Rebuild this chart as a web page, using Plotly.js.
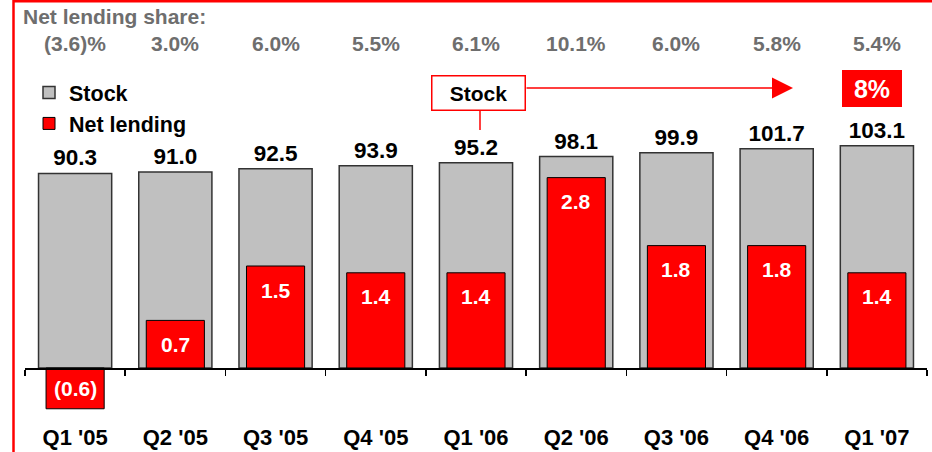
<!DOCTYPE html>
<html>
<head>
<meta charset="utf-8">
<script src="https://cdn.plot.ly/plotly-3.0.1.min.js"></script>
<style>
  html, body { margin: 0; padding: 0; background: #fff; }
  #chart { width: 932px; height: 452px; }
</style>
</head>
<body>
<div id="chart"></div>
<script>
  var quarters = ["Q1 '05", "Q2 '05", "Q3 '05", "Q4 '05", "Q1 '06", "Q2 '06", "Q3 '06", "Q4 '06", "Q1 '07"];
  var stock = [90.3, 91.0, 92.5, 93.9, 95.2, 98.1, 99.9, 101.7, 103.1];
  var netLending = [-0.6, 0.7, 1.5, 1.4, 1.4, 2.8, 1.8, 1.8, 1.4];
  var lendingShare = ["(3.6)%", "3.0%", "6.0%", "5.5%", "6.1%", "10.1%", "6.0%", "5.8%", "5.4%"];
  var growthLabel = "8%";

  var FONT = "Liberation Sans, Arial, sans-serif";
  var RED = "#ff0000";

  // both y scales share the same zero line
  var yRange = [-24.1, 142.9];
  var y2Range = [-0.765, 4.53];
  var zeroPos = -yRange[0] / (yRange[1] - yRange[0]);

  // pixel helpers for the decorations (plot area: x 25..927, y 60..420)
  function px(x) { return (x - 25) / 902; }
  function py(y) { return (420 - y) / 360; }

  function fmt(v) {
    return v < 0 ? "(" + Math.abs(v).toFixed(1) + ")" : v.toFixed(1);
  }

  var stockTrace = {
    type: "bar",
    name: "Stock",
    x: quarters,
    y: stock,
    yaxis: "y",
    width: 0.73,
    marker: { color: "#c0c0c0", line: { color: "#333333", width: 1.5 } },
    text: stock.map(fmt),
    textposition: "outside",
    cliponaxis: false,
    textfont: { family: FONT, size: 22.5, color: "#000", weight: "bold" },
    hoverinfo: "skip",
  };

  var lendingTrace = {
    type: "bar",
    name: "Net lending",
    x: quarters,
    y: netLending,
    yaxis: "y2",
    width: 0.58,
    marker: { color: RED, line: { color: "#000", width: 1 } },
    hoverinfo: "skip",
  };

  var annotations = [];

  annotations.push({
    text: "Net lending share:",
    xref: "paper", yref: "paper",
    x: px(21), y: py(17), xanchor: "left", yanchor: "middle",
    showarrow: false,
    font: { family: FONT, size: 21, color: "#6e6e6e", weight: "bold" },
  });

  lendingShare.forEach(function (s, i) {
    annotations.push({
      text: s,
      xref: "x", yref: "paper",
      x: quarters[i], y: py(44), xanchor: "center", yanchor: "middle",
      showarrow: false,
      font: { family: FONT, size: 21, color: "#6e6e6e", weight: "bold" },
    });
  });

  netLending.forEach(function (v, i) {
    annotations.push({
      text: fmt(v),
      xref: "x", yref: "y2",
      x: quarters[i], y: v, xanchor: "center", yanchor: "middle",
      yshift: v < 0 ? 20 : -24,
      showarrow: false,
      font: { family: FONT, size: 21, color: "#fff", weight: "bold" },
    });
  });

  // "Stock" call-out box with arrow towards the growth figure
  annotations.push({
    text: "Stock",
    xref: "paper", yref: "paper",
    x: px(478), y: py(93), xanchor: "center", yanchor: "middle",
    showarrow: false,
    width: 88, height: 29, borderpad: 2,
    bgcolor: "#fff", bordercolor: RED, borderwidth: 1.5,
    font: { family: FONT, size: 21, color: "#000", weight: "bold" },
  });
  annotations.push({
    text: "",
    xref: "paper", yref: "paper",
    x: px(793), y: py(88),
    ax: px(525), ay: py(88),
    axref: "paper", ayref: "paper",
    showarrow: true, arrowhead: 2, arrowsize: 2.8, arrowwidth: 1.5,
    arrowcolor: RED, standoff: 0, startstandoff: 0,
  });
  annotations.push({
    text: growthLabel,
    xref: "paper", yref: "paper",
    x: px(872), y: py(88.5), xanchor: "center", yanchor: "middle",
    showarrow: false,
    width: 56, height: 33, borderpad: 2,
    bgcolor: RED, bordercolor: RED, borderwidth: 0,
    font: { family: FONT, size: 25, color: "#fff", weight: "bold" },
  });

  var shapes = [
    // connector from call-out box down to the bar label
    { type: "line", xref: "paper", yref: "paper",
      x0: px(480), x1: px(480), y0: py(110), y1: py(130),
      line: { color: RED, width: 1.5 } },
    // page frame
    { type: "line", xref: "paper", yref: "paper",
      x0: px(13), x1: px(940), y0: py(1), y1: py(1),
      line: { color: RED, width: 3 } },
    { type: "line", xref: "paper", yref: "paper",
      x0: px(13.5), x1: px(13.5), y0: py(0), y1: py(460),
      line: { color: RED, width: 2.5 } },
  ];

  var layout = {
    width: 932,
    height: 452,
    margin: { l: 25, r: 5, t: 60, b: 32 },
    paper_bgcolor: "#fff",
    plot_bgcolor: "rgba(0,0,0,0)",
    barmode: "overlay",
    showlegend: true,
    legend: {
      x: px(29), y: py(72), xanchor: "left", yanchor: "top",
      bgcolor: "rgba(0,0,0,0)",
      itemwidth: 30,
      traceorder: "normal",
      font: { family: FONT, size: 21.5, color: "#000", weight: "bold" },
    },
    xaxis: {
      type: "category",
      categoryarray: quarters,
      range: [-0.5, quarters.length - 0.5],
      anchor: "free",
      position: zeroPos,
      showline: true,
      linecolor: "#000",
      linewidth: 1.5,
      ticks: "outside",
      tickson: "boundaries",
      ticklen: 6,
      tickwidth: 1.5,
      tickcolor: "#000",
      ticklabelstandoff: 49,
      showgrid: false,
      zeroline: false,
      tickfont: { family: FONT, size: 22, color: "#000", weight: "bold" },
    },
    yaxis: { range: yRange, visible: false, fixedrange: true },
    yaxis2: { range: y2Range, overlaying: "y", side: "right", visible: false, fixedrange: true },
    annotations: annotations,
    shapes: shapes,
  };

  Plotly.newPlot("chart", [stockTrace, lendingTrace], layout, { displayModeBar: false, staticPlot: true });
</script>
</body>
</html>
